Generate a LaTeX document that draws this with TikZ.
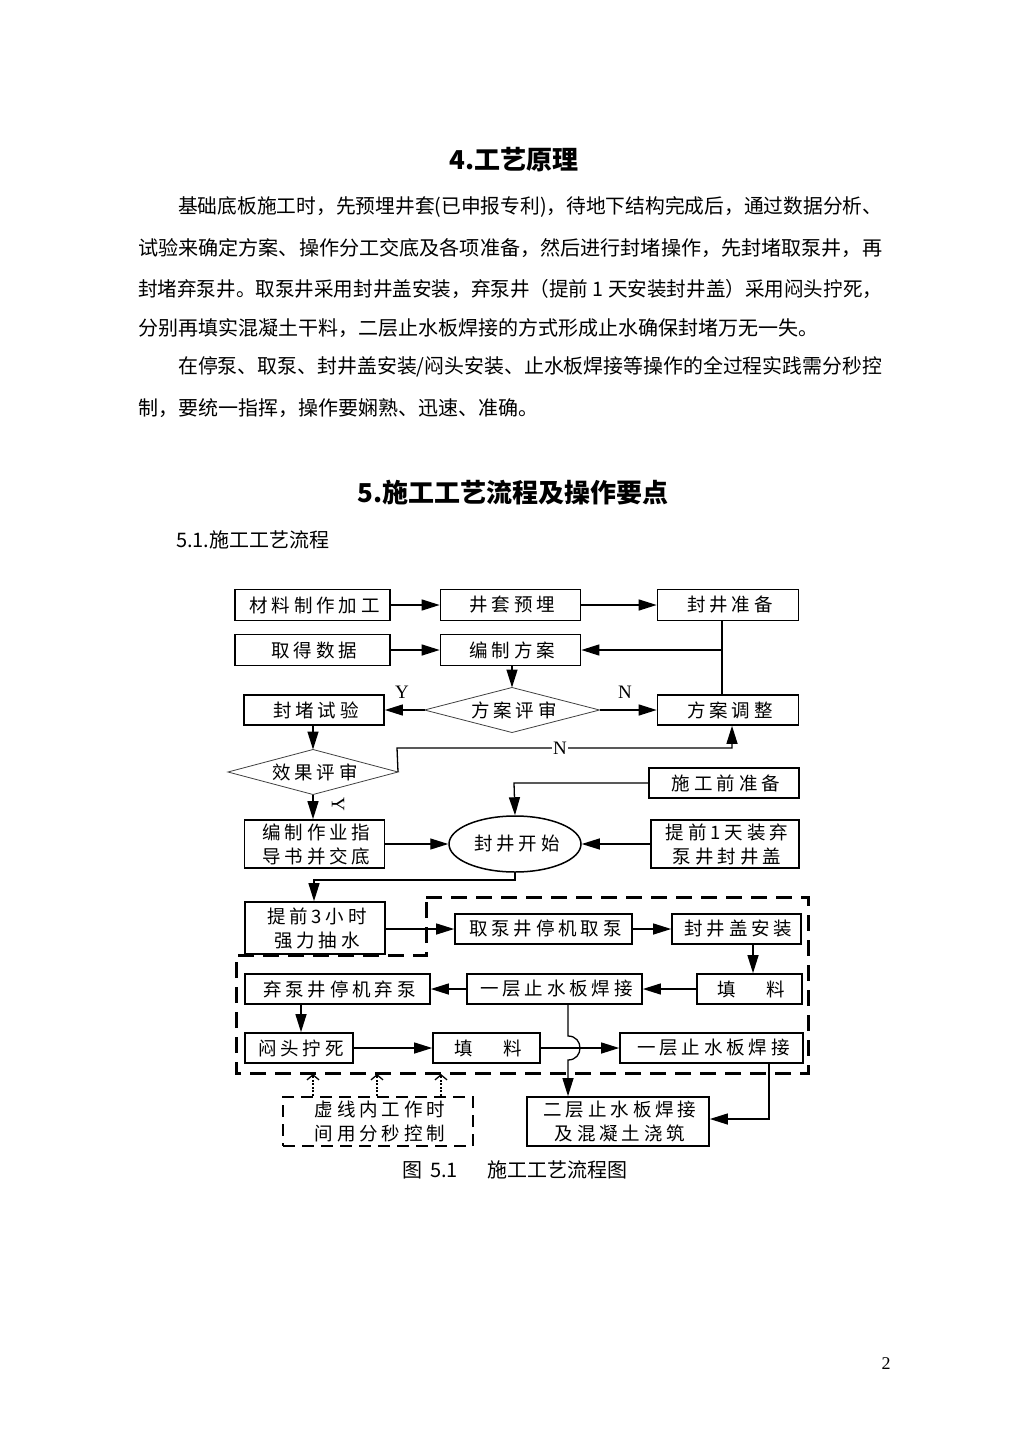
\documentclass[tikz,border=0pt]{standalone}
\usepackage{fontspec}
\usepackage{graphicx}
\setmainfont{Liberation Serif}
\newfontfamily\cjk{Noto Sans CJK SC}
\newfontfamily\cjkbox{Noto Sans CJK SC}[LetterSpace=21]
\usetikzlibrary{arrows.meta,shapes.geometric,calc}
\newcommand\boxtxt{\cjkbox\fontsize{18.5}{24}\selectfont}
\newcommand\bodytxt{\cjk\fontsize{20}{24}\selectfont}
\newcommand\ls[1]{#1\kern-3.9pt}
\newcommand\fitline[2]{\resizebox{#1}{\height}{#2}}
\begin{document}
\begin{tikzpicture}[x=1pt,y=-1pt,
  arr/.style={-{Triangle[length=18pt,width=11pt]}, line width=1.3pt},
  conn/.style={line width=1.3pt},
  box/.style={draw, line width=1.7pt, inner sep=0pt, font=\boxtxt, align=center},
  dia/.style={draw=black!75, line width=0.8pt},
  lbl/.style={font=\fontsize{19}{20}\selectfont, inner sep=0pt},
  body/.style={font=\bodytxt, inner sep=0pt, anchor=west},
  head/.style={font=\cjk\bfseries\fontsize{26}{30}\selectfont, inner sep=0pt},
  region/.style={line width=3pt, dash pattern=on 16pt off 9pt},
  notebox/.style={draw, line width=2pt, dash pattern=on 12pt off 7pt, inner sep=0pt, font=\boxtxt, align=center},
  dotarr/.style={line width=2pt, dash pattern=on 2pt off 1.6pt, -{Straight Barb[length=5pt,width=12pt,line width=1.3pt]}}
]
\useasboundingbox (0,0) rectangle (1012,1431);

% ---------- text ----------
\node[head] (h4) at (514,160) {4.工艺原理};
\node[body] (t1) at (178,207) {\fitline{704pt}{基础底板施工时，先预埋井套(已申报专利)，待地下结构完成后，通过数据分析、}};
\node[body] (t2) at (138,248) {\fitline{744pt}{试验来确定方案、操作分工交底及各项准备，然后进行封堵操作，先封堵取泵井，再}};
\node[body] (t3) at (138,289) {\fitline{744pt}{封堵弃泵井。取泵井采用封井盖安装，弃泵井（提前 1 天安装封井盖）采用闷头拧死，}};
\node[body] (t4) at (138,328) {分别再填实混凝土干料，二层止水板焊接的方式形成止水确保封堵万无一失。};
\node[body] (t5) at (178,367) {\fitline{704pt}{在停泵、取泵、封井盖安装/闷头安装、止水板焊接等操作的全过程实践需分秒控}};
\node[body] (t6) at (138,408) {制，要统一指挥，操作要娴熟、迅速、准确。};
\node[head] (h5) at (513,493) {5.施工工艺流程及操作要点};
\node[body] (h51) at (176,540) {5.1.施工工艺流程};

% ---------- boxes ----------
\node[box, minimum width=155pt, minimum height=31pt] (n1) at (312.5,605) {\ls{材料制作加工}};
\node[box, minimum width=140pt, minimum height=31pt] (n2) at (510.5,605) {\ls{井套预埋}};
\node[box, minimum width=141pt, minimum height=31pt] (n3) at (728,605) {\ls{封井准备}};
\node[box, minimum width=155pt, minimum height=31pt] (n4) at (312.5,650) {\ls{取得数据}};
\node[box, minimum width=140pt, minimum height=31pt] (n5) at (510.5,650) {\ls{编制方案}};
\node[box, minimum width=140pt, minimum height=30pt] (tst) at (314,710) {\ls{封堵试验}};
\node[box, minimum width=141pt, minimum height=30pt] (adj) at (728,710) {\ls{方案调整}};

% diamonds
\coordinate (d1n) at (512,687.5);
\coordinate (d1e) at (599.5,710);
\coordinate (d1s) at (512,732.5);
\coordinate (d1w) at (424.5,710);
\draw[dia] (d1n) -- (d1e) -- (d1s) -- (d1w) -- cycle;
\node[font=\boxtxt, inner sep=0pt] (d1t) at (512,710) {\ls{方案评审}};
\coordinate (d2n) at (313,749.5);
\coordinate (d2e) at (398,772);
\coordinate (d2s) at (313,794.5);
\coordinate (d2w) at (228,772);
\draw[dia] (d2n) -- (d2e) -- (d2s) -- (d2w) -- cycle;
\node[font=\boxtxt, inner sep=0pt] (d2t) at (313,772) {\ls{效果评审}};

\node[box, minimum width=150pt, minimum height=30pt] (prep) at (724,783) {\ls{施工前准备}};
\node[box, minimum width=140pt, minimum height=48pt] (guide) at (314.5,844) {\ls{编制作业指}\\\ls{导书并交底}};
\node[draw, ellipse, line width=1.5pt, minimum width=132pt, minimum height=56pt, inner sep=0pt, font=\boxtxt] (st) at (515,844) {\ls{封井开始}};
\node[box, minimum width=148pt, minimum height=48pt] (day1) at (725,844) {\ls{提前1天装弃}\\\ls{泵井封井盖}};
\node[box, minimum width=140pt, minimum height=52pt] (h3) at (315,928) {\ls{提前3小时}\\\ls{强力抽水}};
\node[box, minimum width=177pt, minimum height=30pt] (take) at (543.5,929) {\ls{取泵井停机取泵}};
\node[box, minimum width=129pt, minimum height=30pt] (cover) at (736.5,929) {\ls{封井盖安装}};
\node[box, minimum width=105pt, minimum height=30pt] (fill1) at (749.5,989) {\ls{填\hspace{30pt}料}};
\node[box, minimum width=175pt, minimum height=30pt] (weld1) at (554.5,989) {\ls{一层止水板焊接}};
\node[box, minimum width=185pt, minimum height=30pt] (aband) at (337.5,989) {\ls{弃泵井停机弃泵}};
\node[box, minimum width=108pt, minimum height=30pt] (plug) at (299,1048) {\ls{闷头拧死}};
\node[box, minimum width=107pt, minimum height=30pt] (fill2) at (486.5,1048) {\ls{填\hspace{30pt}料}};
\node[box, minimum width=183pt, minimum height=30pt] (weld2) at (711.5,1048) {\ls{一层止水板焊接}};
\node[box, minimum width=182pt, minimum height=49pt] (layer2) at (618,1121.5) {\ls{二层止水板焊接}\\\ls{及混凝土浇筑}};
\node[notebox, minimum width=190pt, minimum height=49pt] (note) at (378,1121.5) {\ls{虚线内工作时}\\\ls{间用分秒控制}};

% dashed region
\draw[region] (426,897) -- (808,897) -- (808,1073) -- (236,1073) -- (236,955) -- (426,955) -- cycle;

% ---------- helper coordinates ----------
\coordinate (j1) at (722,650);
\coordinate (xN) at (732,748);
\coordinate (xL) at (397,748);
\coordinate (jp) at (514,783);
\coordinate (js) at (515,880);
\coordinate (jh) at (314,880);
\coordinate (xc) at (753,0);
\coordinate (xa) at (301,0);
\coordinate (xw) at (568,0);
\coordinate (hopA) at (568,1036);
\coordinate (hopB) at (568,1060);
\coordinate (jw) at (769,1119);
\coordinate (a1) at (313,1074);
\coordinate (a2) at (377,1074);
\coordinate (a3) at (441,1074);

% ---------- connectors ----------
\draw[arr] (n1.east) -- (n2.west);
\draw[arr] (n2.east) -- (n3.west);
\draw[arr] (n4.east) -- (n5.west);
\draw[conn] (n3.south -| j1) -- (adj.north -| j1);
\draw[arr] (j1) -- (n5.east);
\draw[arr] (n5.south -| d1n) -- (d1n);
\draw[arr] (d1w) -- (tst.east);
\draw[arr] (d1e) -- (adj.west);
\node[lbl] (lY1) at (402,692) {Y};
\node[lbl] (lN1) at (625,692) {N};
\draw[arr] (tst.south -| d2n) -- (d2n);
\draw[arr] (d2e) -- (xL) -- (xN) -- (adj.south -| xN);
\node[lbl, fill=white, inner sep=1pt] (lN2) at (560,748) {N};
\draw[arr] (d2s) -- (guide.north -| d2s);
\node[lbl, rotate=-90] (lY2) at (338,804) {Y};
\draw[arr] (prep.west) -- (jp) -- (st.north);
\draw[arr] (guide.east) -- (st.west);
\draw[arr] (day1.west) -- (st.east);
\draw[arr] (st.south -| js) -- (js) -- (jh) -- (h3.north -| jh);
\draw[arr] (h3.east |- take.west) -- (take.west);
\draw[arr] (take.east) -- (cover.west);
\draw[arr] (cover.south -| xc) -- (fill1.north -| xc);
\draw[arr] (fill1.west) -- (weld1.east);
\draw[arr] (weld1.west) -- (aband.east);
\draw[arr] (aband.south -| xa) -- (plug.north -| xa);
\draw[arr] (plug.east) -- (fill2.west);
\draw[arr] (fill2.east) -- (weld2.west);
\draw[arr] (weld1.south -| xw) -- (hopA) .. controls (584,1036) and (584,1060) .. (hopB) -- (layer2.north -| xw);
\draw[arr] (weld2.south -| jw) -- (jw) -- (layer2.east |- jw);
\draw[dotarr] (note.north -| a1) -- (a1);
\draw[dotarr] (note.north -| a2) -- (a2);
\draw[dotarr] (note.north -| a3) -- (a3);

% caption and page number
\node[body] (cap1) at (402,1170) {图\hspace{8pt}5.1};
\node[body] (cap2) at (487,1170) {施工工艺流程图};
\node[font=\fontsize{18}{20}\selectfont, inner sep=0pt] (pg) at (886,1364) {2};
\end{tikzpicture}
\end{document}
